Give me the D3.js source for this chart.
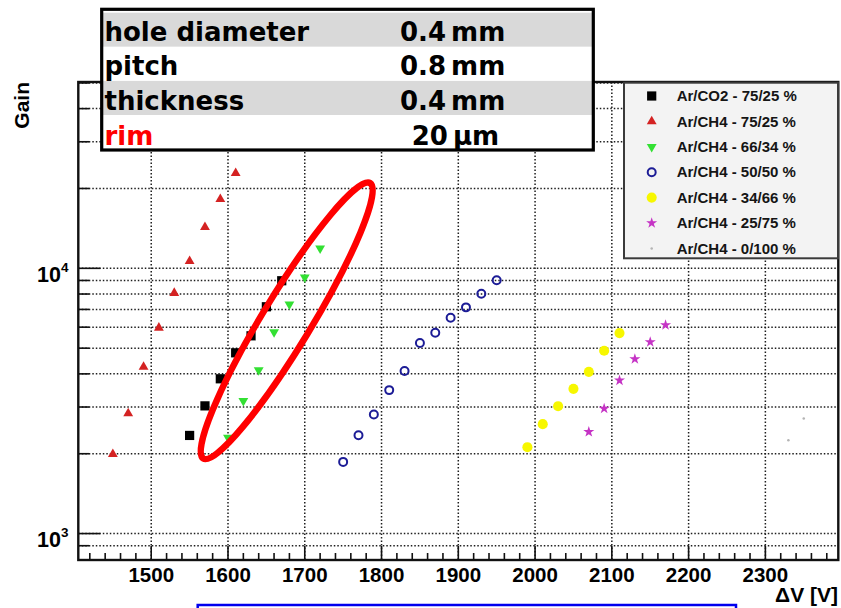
<!DOCTYPE html>
<html>
<head>
<meta charset="utf-8">
<script src="https://cdnjs.cloudflare.com/ajax/libs/d3/7.8.5/d3.min.js"></script>
<style>
  body { margin: 0; background: #fff; }
  svg { display: block; }
</style>
</head>
<body>
<svg id="chart" width="841" height="608"></svg>
<script>
// values (voltage in V, gain)
const voltsArCO2_75 = [1550, 1570, 1590, 1610, 1630, 1650, 1670];
const gainArCO2_75  = [2344, 3030, 3833, 4802, 5566, 7163, 8978];

const voltsArCH4_75 = [1450, 1470, 1490, 1510, 1530, 1550, 1570, 1590, 1610];
const gainArCH4_75  = [1991, 2836, 4252, 5968, 8068, 10650, 14280, 18210, 22830];

const voltsArCH4_66 = [1600, 1620, 1640, 1660, 1680, 1700, 1720];
const gainArCH4_66  = [2303, 3164, 4132, 5749, 7311, 9249, 11900];

const voltsArCH4_50 = [1750, 1770, 1790, 1810, 1830, 1850, 1870, 1890, 1910, 1930, 1950];
const gainArCH4_50  = [1863, 2349, 2812, 3474, 4098, 5227, 5715, 6511, 7125, 8019, 9011];

const voltsArCH4_34 = [1990, 2010, 2030, 2050, 2070, 2090, 2110];
const gainArCH4_34  = [2117, 2585, 3022, 3512, 4071, 4887, 5699];

const voltsArCH4_25 = [2070, 2090, 2110, 2130, 2150, 2170];
const gainArCH4_25  = [2417, 2962, 3779, 4546, 5272, 6110];

const voltsArCH4_0 = [2330, 2350];
const gainArCH4_0  = [2249, 2716];

const seriesNames = [
    "Ar/CO2 - 75/25 %", "Ar/CH4 - 75/25 %", "Ar/CH4 - 66/34 %", "Ar/CH4 - 50/50 %",
    "Ar/CH4 - 34/66 %", "Ar/CH4 - 25/75 %", "Ar/CH4 - 0/100 %"
];

const xMajorTicks = [1500, 1600, 1700, 1800, 1900, 2000, 2100, 2200, 2300];
const yMajorTicks = [1000, 10000];

const infoLabels = ["hole diameter", "pitch", "thickness", "rim"];
const infoNumbers = ["0.4", "0.8", "0.4", "20"];
const infoUnits = ["mm", "mm", "mm", "\u03bcm"];

// marker styles per series
const markerStyles = [
    { type: d3.symbolSquare,   size: 85, fill: "#000000", stroke: "none", rotate: 0 },
    { type: d3.symbolTriangle, size: 42, fill: "#d42222", stroke: "none", rotate: 0 },
    { type: d3.symbolTriangle, size: 42, fill: "#33e033", stroke: "none", rotate: 180 },
    { type: d3.symbolCircle,   size: 50, fill: "none", stroke: "#1c1c96", rotate: 0 },
    { type: d3.symbolCircle,   size: 80, fill: "#f7f700", stroke: "none", rotate: 0 },
    { type: d3.symbolStar,     size: 38, fill: "#c533c5", stroke: "none", rotate: 0 },
    { type: d3.symbolCircle,   size: 5,  fill: "#b4b4b4", stroke: "none", rotate: 0 }
];

const series = [
    [voltsArCO2_75, gainArCO2_75],
    [voltsArCH4_75, gainArCH4_75],
    [voltsArCH4_66, gainArCH4_66],
    [voltsArCH4_50, gainArCH4_50],
    [voltsArCH4_34, gainArCH4_34],
    [voltsArCH4_25, gainArCH4_25],
    [voltsArCH4_0, gainArCH4_0]
].map(function (s, i) {
    return {
        name: seriesNames[i],
        style: markerStyles[i],
        points: s[0].map((v, j) => ({ v: v, g: s[1][j] }))
    };
});

const svg = d3.select("#chart");
const frame = { left: 78.3, right: 838.3, top: 82, bottom: 560 };
const labelFont = "'Liberation Sans', Arial, Helvetica, sans-serif";

const x = d3.scaleLinear().domain([1405, 2395]).range([frame.left, frame.right]);
const y = d3.scaleLog().domain([795, 50400]).range([frame.bottom, frame.top]);

svg.append("rect").attr("width", 841).attr("height", 608).attr("fill", "#fff");

// minor log ticks 1..9 per decade inside the range
var yAllTicks = [];
[100, 1000, 10000].forEach(function (dec) {
    for (var m = 1; m <= 9; m++) {
        var t = dec * m;
        if (t > 800 && t <= 50400) yAllTicks.push(t);
    }
});
var xMinorTicks = d3.range(1420, 2395, 20).filter(t => xMajorTicks.indexOf(t) < 0);

// dotted grid
const grid = svg.append("g")
    .attr("stroke", "#1e1e1e")
    .attr("stroke-width", 1.5)
    .attr("stroke-dasharray", "1.5,2");

grid.selectAll("line.h")
    .data(yAllTicks)
    .enter().append("line")
    .attr("class", "h")
    .attr("x1", frame.left).attr("x2", frame.right)
    .attr("y1", d => y(d)).attr("y2", d => y(d));

grid.selectAll("line.v")
    .data(xMajorTicks)
    .enter().append("line")
    .attr("class", "v")
    .attr("x1", d => x(d)).attr("x2", d => x(d))
    .attr("y1", frame.top).attr("y2", frame.bottom);

// ticks
const ticks = svg.append("g").attr("stroke", "#111").attr("stroke-width", 1.6);

ticks.selectAll("line.yt")
    .data(yAllTicks)
    .enter().append("line")
    .attr("x1", frame.left)
    .attr("x2", d => frame.left + (yMajorTicks.indexOf(d) >= 0 ? 22 : 11))
    .attr("y1", d => y(d)).attr("y2", d => y(d));

ticks.selectAll("line.xt")
    .data(xMajorTicks.concat(xMinorTicks))
    .enter().append("line")
    .attr("x1", d => x(d)).attr("x2", d => x(d))
    .attr("y1", frame.bottom)
    .attr("y2", d => frame.bottom - (xMajorTicks.indexOf(d) >= 0 ? 14 : 7));

// frame
svg.append("rect")
    .attr("x", frame.left).attr("y", frame.top)
    .attr("width", frame.right - frame.left)
    .attr("height", frame.bottom - frame.top)
    .attr("fill", "none")
    .attr("stroke", "#111")
    .attr("stroke-width", 2.4);

// tick labels
svg.append("g")
    .attr("font-family", labelFont)
    .attr("font-weight", "bold")
    .attr("font-size", 20.5)
    .attr("text-anchor", "middle")
    .selectAll("text")
    .data(xMajorTicks)
    .enter().append("text")
    .attr("x", d => x(d))
    .attr("y", 581.5)
    .text(d => d);

const yLab = svg.append("g")
    .attr("font-family", labelFont)
    .attr("font-weight", "bold")
    .selectAll("text")
    .data(yMajorTicks)
    .enter().append("text")
    .attr("x", 37)
    .attr("y", d => y(d) + 13.5)
    .attr("font-size", 21.5);
yLab.append("tspan").text("10");
yLab.append("tspan")
    .attr("font-size", 13.5)
    .attr("dy", -10)
    .text(d => Math.round(Math.log10(d)));

// axis titles
svg.append("text")
    .attr("transform", "translate(28.5,82) rotate(-90)")
    .attr("text-anchor", "end")
    .attr("font-family", labelFont)
    .attr("font-weight", "bold")
    .attr("font-size", 21)
    .text("Gain");

svg.append("text")
    .attr("x", 838)
    .attr("y", 601.5)
    .attr("text-anchor", "end")
    .attr("font-family", labelFont)
    .attr("font-weight", "bold")
    .attr("font-size", 21)
    .text("\u0394V [V]");

// data markers
const symbolPath = s => d3.symbol().type(s.type).size(s.size)();

series.forEach(function (s) {
    svg.append("g")
        .selectAll("path")
        .data(s.points)
        .enter().append("path")
        .attr("d", symbolPath(s.style))
        .attr("transform", d => `translate(${x(d.v)},${y(d.g)}) rotate(${s.style.rotate})`)
        .attr("fill", s.style.fill)
        .attr("stroke", s.style.stroke)
        .attr("stroke-width", s.style.stroke == "none" ? 0 : 2);
});

// red ellipse around the Ar/CO2 and 66/34 points
const ellipseCenter = { v: 1676.5, g: 6340 };
svg.append("ellipse")
    .attr("transform", `translate(${x(ellipseCenter.v)},${y(ellipseCenter.g)}) rotate(-58.8)`)
    .attr("rx", 161)
    .attr("ry", 24.5)
    .attr("fill", "none")
    .attr("stroke", "#ff0000")
    .attr("stroke-width", 6.5);

// legend
const legend = svg.append("g");
legend.append("rect")
    .attr("x", 624).attr("y", 82.7)
    .attr("width", 214).attr("height", 175.6)
    .attr("fill", "#f3f3f3")
    .attr("stroke", "#3a3a3a")
    .attr("stroke-width", 2);

const legendRow = legend.selectAll("g.row")
    .data(series)
    .enter().append("g")
    .attr("transform", (d, i) => `translate(0,${96 + i * 25.4})`);

legendRow.append("path")
    .attr("d", d => symbolPath(d.style))
    .attr("transform", d => `translate(651.7,0) rotate(${d.style.rotate})`)
    .attr("fill", d => d.style.fill)
    .attr("stroke", d => d.style.stroke)
    .attr("stroke-width", d => d.style.stroke == "none" ? 0 : 2);

legendRow.append("text")
    .attr("x", 676.7)
    .attr("y", 5.2)
    .attr("font-family", labelFont)
    .attr("font-weight", "bold")
    .attr("font-size", 15)
    .attr("fill", "#151515")
    .text(d => d.name);

// info table, top left
const info = svg.append("g")
    .attr("font-family", "'DejaVu Sans', Verdana, sans-serif")
    .attr("font-weight", "bold")
    .attr("font-size", 26);

info.append("rect")
    .attr("x", 101.7).attr("y", 9.3)
    .attr("width", 491.6).attr("height", 140.7)
    .attr("fill", "#fff");

info.selectAll("rect.band")
    .data(infoLabels)
    .enter().append("rect")
    .attr("x", 101.7).attr("y", (d, i) => 12.7 + i * 34.1)
    .attr("width", 491.6).attr("height", 34.1)
    .attr("fill", (d, i) => i % 2 == 0 ? "#d9d9d9" : "#fff");

info.selectAll("text.label")
    .data(infoLabels)
    .enter().append("text")
    .attr("x", 104.5)
    .attr("y", (d, i) => 40.7 + i * 34.6)
    .attr("fill", (d, i) => i == 3 ? "#ff0000" : "#000")
    .text(d => d);

const val = info.selectAll("text.value")
    .data(infoNumbers)
    .enter().append("text")
    .attr("x", (d, i) => i == 3 ? 411.7 : 400)
    .attr("y", (d, i) => 40.7 + i * 34.6)
    .text(d => d);
val.append("tspan")
    .attr("dx", 5)
    .text((d, i) => infoUnits[i]);

info.append("rect")
    .attr("x", 101.7).attr("y", 9.3)
    .attr("width", 491.6).attr("height", 140.7)
    .attr("fill", "none")
    .attr("stroke", "#000")
    .attr("stroke-width", 3.2);

// blue caption box at the bottom (cut by the picture edge)
svg.append("rect")
    .attr("x", 197.7).attr("y", 605)
    .attr("width", 538.3).attr("height", 20)
    .attr("fill", "none")
    .attr("stroke", "#0000ee")
    .attr("stroke-width", 2.5);
</script>
</body>
</html>
